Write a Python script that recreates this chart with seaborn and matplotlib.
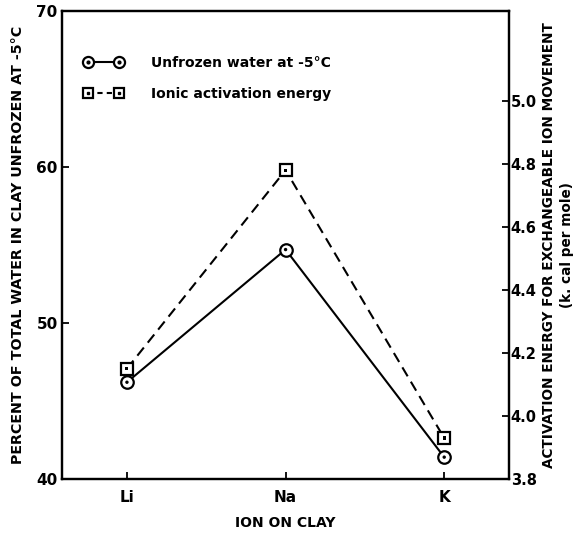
import matplotlib
matplotlib.use("Agg")
import matplotlib.pyplot as plt
import seaborn as sns
import pandas as pd
from matplotlib.lines import Line2D
from matplotlib.legend_handler import HandlerTuple

ions = ["Li", "Na", "K"]
unfrozen_water = [46.2, 54.7, 41.4]
activation_energy = [4.15, 4.78, 3.93]

left_ticks = [40, 50, 60, 70]
right_ticks = [3.8, 4.0, 4.2, 4.4, 4.6, 4.8, 5.0]

sns.set_theme(style="ticks")
plt.rcParams["font.family"] = ["DejaVu Sans"]
plt.rcParams["font.weight"] = "bold"
plt.rcParams["text.color"] = "black"
plt.rcParams["axes.labelcolor"] = "black"

df = pd.DataFrame({"ion": ions, "water": unfrozen_water, "energy": activation_energy})
df["x"] = range(len(ions))

fig = plt.figure(figsize=(5.84, 5.37), dpi=100)
ax = fig.add_axes([0.106, 0.108, 0.766, 0.872])
ax2 = ax.twinx()

sns.lineplot(data=df, x="x", y="water", ax=ax, color="black", lw=1.5,
             marker="o", markersize=9, markerfacecolor="white",
             markeredgecolor="black", markeredgewidth=1.6)
sns.scatterplot(data=df, x="x", y="water", ax=ax, color="black", s=6,
                edgecolor="none", zorder=5)

sns.lineplot(data=df, x="x", y="energy", ax=ax2, color="black", lw=1.5,
             linestyle=(0, (5, 3)), marker="s", markersize=8,
             markerfacecolor="white", markeredgecolor="black",
             markeredgewidth=1.6)
sns.scatterplot(data=df, x="x", y="energy", ax=ax2, color="black", s=5,
                marker="s", edgecolor="none", zorder=5)

ax.set_xlim(-0.41, 2.41)
ax.set_ylim(40, 70)
ax2.set_ylim(3.8, 3.8 + (70 - 40) * (1.2 / 24.23))
ax.set_xticks(df["x"])
ax.set_xticklabels(ions)
ax.set_yticks(left_ticks)
ax2.set_yticks(right_ticks)
ax2.set_yticklabels([f"{t:.1f}" for t in right_ticks])

for a in (ax, ax2):
    a.tick_params(direction="in", length=5, width=1.3, labelsize=11,
                  colors="black", pad=3)
    for s in a.spines.values():
        s.set_linewidth(1.6)
        s.set_color("black")
ax.tick_params(axis="x", pad=8)
ax2.tick_params(axis="y", pad=1, labelsize=10.5)

ax.set_xlabel("ION ON CLAY", fontsize=10, fontweight="bold", labelpad=8)
ax.set_ylabel("PERCENT OF TOTAL WATER IN CLAY UNFROZEN AT -5°C",
              fontsize=10.3, fontweight="bold", labelpad=8)
ax2.set_ylabel("ACTIVATION ENERGY FOR EXCHANGEABLE ION MOVEMENT\n(k. cal per mole)",
               fontsize=9.8, fontweight="bold", linespacing=1.3)
ax2.yaxis.set_label_coords(1.074, 0.5)

h1 = Line2D([], [], color="black", lw=1.5, marker="o", markersize=8,
            markerfacecolor="white", markeredgewidth=1.6)
h1d = Line2D([], [], color="black", lw=0, marker="o", markersize=2)
h2 = Line2D([], [], color="black", lw=1.5, linestyle=(0, (2.5, 2)), marker="s",
            markersize=7, markerfacecolor="white", markeredgewidth=1.6)
h2d = Line2D([], [], color="black", lw=0, marker="s", markersize=2)
leg = ax.legend([(h1, h1d), (h2, h2d)],
                ["Unfrozen water at -5°C", "Ionic activation energy"],
                handler_map={tuple: HandlerTuple(ndivide=1)},
                numpoints=2, handlelength=2.9, frameon=False, fontsize=10,
                loc="upper left", bbox_to_anchor=(0.02, 0.93),
                labelspacing=1.2, handletextpad=2.0)
for t in leg.get_texts():
    t.set_fontweight("bold")
    t.set_color("black")

fig.savefig("out.png", dpi=100)
